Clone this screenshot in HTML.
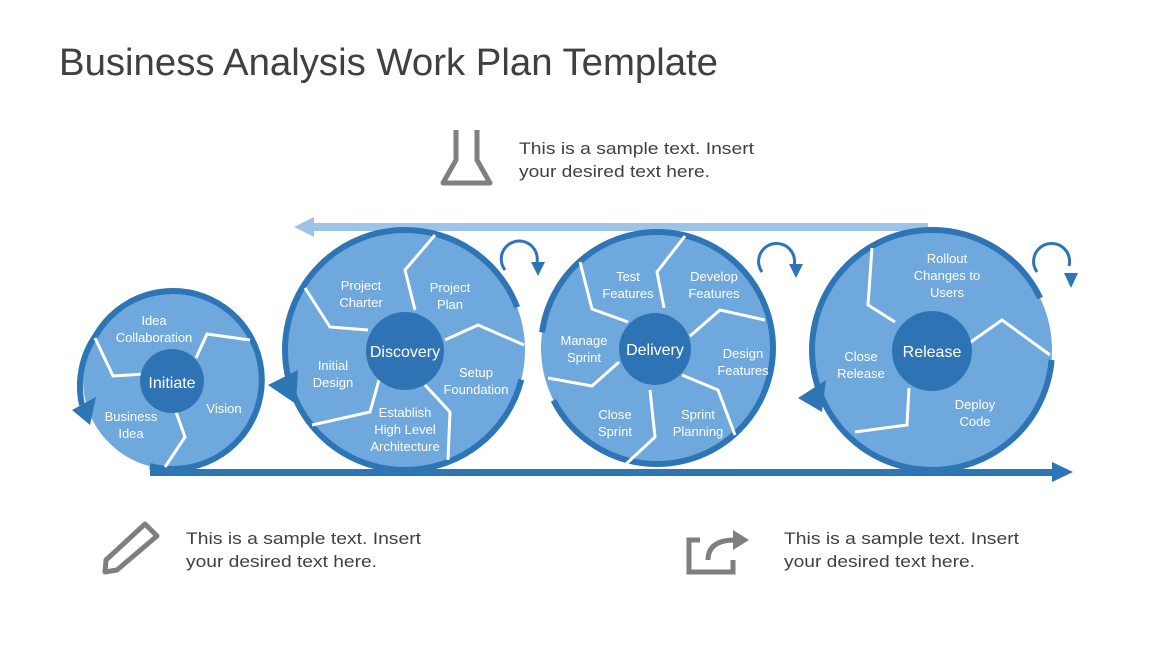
<!DOCTYPE html>
<html><head><meta charset="utf-8"><style>
body{margin:0;width:1152px;height:648px;background:#fff;overflow:hidden;font-family:"Liberation Sans",sans-serif}
</style></head><body>
<svg width="1152" height="648" viewBox="0 0 1152 648" xmlns="http://www.w3.org/2000/svg" font-family="Liberation Sans, sans-serif">
<text x="59" y="75" font-size="38" fill="#404040" textLength="659" lengthAdjust="spacingAndGlyphs">Business Analysis Work Plan Template</text>

<!-- top light arrow -->
<rect x="308" y="223" width="620" height="8" fill="#9dc3e6"/>
<polygon points="294,227 314,217 314,237" fill="#9dc3e6"/>

<!-- bottom arrow -->
<rect x="150" y="469" width="905" height="7" fill="#2e75b6"/>
<polygon points="1073,472 1052,462 1052,482" fill="#2e75b6"/>

<!-- Initiate -->
<circle cx="172" cy="380" r="89" fill="#6fa8dc"/>
<path d="M96,335 A89,89 0 1 1 150,466" fill="none" stroke="#2e75b6" stroke-width="6"/>
<path d="M82,405 A89,89 0 0 1 96,335" fill="none" stroke="#2e75b6" stroke-width="6"/>
<polygon points="72,410 96,397 90,425" fill="#2e75b6"/>
<g stroke="#fff" stroke-width="3" fill="none">
<polyline points="95,338 113,376 145,374"/>
<polyline points="196,358 207,334 250,340"/>
<polyline points="176,412 185,437 165,467"/>
</g>
<circle cx="172" cy="381" r="32" fill="#2e74b5"/>
<text x="172" y="388" font-size="16" fill="#fff" text-anchor="middle">Initiate</text>
<g font-size="13" fill="#fff" text-anchor="middle">
<text x="154" y="325">Idea</text><text x="154" y="342">Collaboration</text>
<text x="224" y="413">Vision</text>
<text x="131" y="421">Business</text><text x="131" y="438">Idea</text>
</g>

<!-- Discovery -->
<circle cx="405" cy="350" r="120" fill="#6fa8dc"/>
<circle cx="405" cy="350" r="120" fill="none" stroke="#2e75b6" stroke-width="6" stroke-dasharray="680 80" stroke-dashoffset="-30"/>
<polygon points="268,385 298,370 296,404" fill="#2e75b6"/>
<g stroke="#fff" stroke-width="3" fill="none">
<polyline points="305,288 330,327 368,330"/>
<polyline points="435,235 405,270 415,310"/>
<polyline points="445,340 478,325 524,345"/>
<polyline points="425,385 450,412 448,460"/>
<polyline points="379,380 370,412 312,425"/>
</g>
<circle cx="405" cy="351" r="39" fill="#2e74b5"/>
<text x="405" y="357" font-size="16" fill="#fff" text-anchor="middle">Discovery</text>
<g font-size="13" fill="#fff" text-anchor="middle">
<text x="361" y="290">Project</text><text x="361" y="307">Charter</text>
<text x="450" y="292">Project</text><text x="450" y="309">Plan</text>
<text x="333" y="370">Initial</text><text x="333" y="387">Design</text>
<text x="476" y="377">Setup</text><text x="476" y="394">Foundation</text>
<text x="405" y="417">Establish</text><text x="405" y="434">High Level</text><text x="405" y="451">Architecture</text>
</g>
<path d="M505,270 A18,18 0 1 1 537,262" fill="none" stroke="#2e75b6" stroke-width="3"/>
<polygon points="531,262 545,262 538,276" fill="#2e75b6"/>

<!-- Delivery -->
<circle cx="657" cy="348" r="116" fill="#6fa8dc"/>
<circle cx="657" cy="348" r="116" fill="none" stroke="#2e75b6" stroke-width="6" stroke-dasharray="660 70" stroke-dashoffset="-380"/>
<g stroke="#fff" stroke-width="3" fill="none">
<polyline points="580,262 592,309 628,322"/>
<polyline points="685,236 657,272 664,308"/>
<polyline points="690,336 720,310 765,320"/>
<polyline points="682,375 718,390 735,435"/>
<polyline points="650,390 655,437 625,465"/>
<polyline points="619,362 592,386 548,378"/>
</g>
<circle cx="655" cy="349" r="36" fill="#2e74b5"/>
<text x="655" y="355" font-size="16" fill="#fff" text-anchor="middle">Delivery</text>
<g font-size="13" fill="#fff" text-anchor="middle">
<text x="628" y="281">Test</text><text x="628" y="298">Features</text>
<text x="714" y="281">Develop</text><text x="714" y="298">Features</text>
<text x="584" y="345">Manage</text><text x="584" y="362">Sprint</text>
<text x="743" y="358">Design</text><text x="743" y="375">Features</text>
<text x="615" y="419">Close</text><text x="615" y="436">Sprint</text>
<text x="698" y="419">Sprint</text><text x="698" y="436">Planning</text>
</g>
<path d="M762,272 A18,18 0 1 1 794,266" fill="none" stroke="#2e75b6" stroke-width="3"/>
<polygon points="789,264 803,264 796,278" fill="#2e75b6"/>

<!-- Release -->
<circle cx="932" cy="350" r="120" fill="#6fa8dc"/>
<circle cx="932" cy="350" r="120" fill="none" stroke="#2e75b6" stroke-width="6" stroke-dasharray="690 65" stroke-dashoffset="-10"/>
<polygon points="798,398 826,380 822,412" fill="#2e75b6"/>
<g stroke="#fff" stroke-width="3" fill="none">
<polyline points="872,248 868,305 895,322"/>
<polyline points="968,344 1002,320 1050,355"/>
<polyline points="909,388 907,425 855,432"/>
</g>
<circle cx="932" cy="351" r="40" fill="#2e74b5"/>
<text x="932" y="357" font-size="16" fill="#fff" text-anchor="middle">Release</text>
<g font-size="13" fill="#fff" text-anchor="middle">
<text x="947" y="263">Rollout</text><text x="947" y="280">Changes to</text><text x="947" y="297">Users</text>
<text x="861" y="361">Close</text><text x="861" y="378">Release</text>
<text x="975" y="409">Deploy</text><text x="975" y="426">Code</text>
</g>
<path d="M1037,272 A18,18 0 1 1 1069,266" fill="none" stroke="#2e75b6" stroke-width="3"/>
<polygon points="1064,273 1078,273 1071,288" fill="#2e75b6"/>

<!-- flask icon -->
<g fill="none" stroke="#7f7f7f" stroke-width="5" stroke-linejoin="round">
<path d="M456,130 L456,160 L443,183 L490,183 L477,160 L477,130"/>
</g>
<text x="519" y="154" font-size="17" fill="#404040" textLength="235" lengthAdjust="spacingAndGlyphs">This is a sample text. Insert</text>
<text x="519" y="177" font-size="17" fill="#404040" textLength="191" lengthAdjust="spacingAndGlyphs">your desired text here.</text>

<!-- pencil icon -->
<g fill="none" stroke="#7f7f7f" stroke-width="5" stroke-linejoin="round">
<path d="M145,524 L157,536 L117,570 L105,572 L106,560 Z"/>
</g>
<text x="186" y="544" font-size="17" fill="#404040" textLength="235" lengthAdjust="spacingAndGlyphs">This is a sample text. Insert</text>
<text x="186" y="567" font-size="17" fill="#404040" textLength="191" lengthAdjust="spacingAndGlyphs">your desired text here.</text>

<!-- share icon -->
<g fill="none" stroke="#7f7f7f" stroke-width="5">
<path d="M700,540 L689,540 L689,572 L733,572 L733,560"/>
<path d="M708,560 Q708,540 735,540"/>
</g>
<polygon points="733,530 749,540 733,550" fill="#7f7f7f"/>
<text x="784" y="544" font-size="17" fill="#404040" textLength="235" lengthAdjust="spacingAndGlyphs">This is a sample text. Insert</text>
<text x="784" y="567" font-size="17" fill="#404040" textLength="191" lengthAdjust="spacingAndGlyphs">your desired text here.</text>
</svg>
</body></html>
